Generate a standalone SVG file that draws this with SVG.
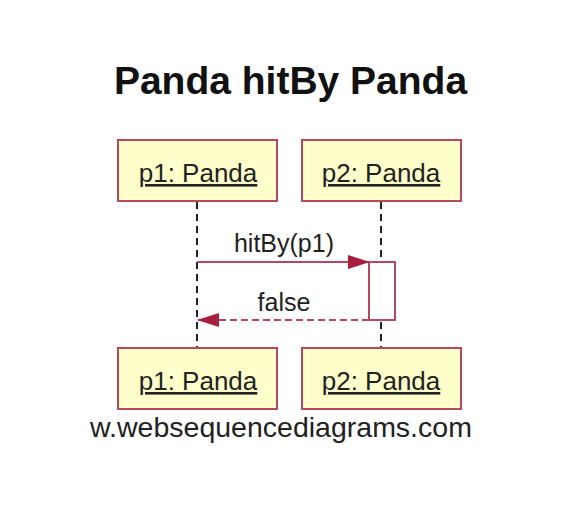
<svg xmlns="http://www.w3.org/2000/svg" width="572" height="520" viewBox="0 0 572 520">
<style>
.box{fill:#ffffcc;stroke:#b5475e;stroke-width:2}
.lbl{font-family:"Liberation Sans",Arial,sans-serif;font-size:26px;fill:#222;text-anchor:middle;text-decoration:underline}
.life{stroke:#222;stroke-width:2;stroke-dasharray:7,5;fill:none}
.msg{font-family:"Liberation Sans",Arial,sans-serif;font-size:25px;fill:#222;text-anchor:middle}
</style>
<defs>
<marker id="ah" markerWidth="22" markerHeight="14" refX="21" refY="7" orient="auto" markerUnits="userSpaceOnUse">
<path d="M0,0 L22,7 L0,14 Z" fill="#a8203f"/>
</marker>
</defs>
<rect width="572" height="520" fill="#fff"/>
<text x="290.5" y="94" font-family="Liberation Sans,Arial,sans-serif" font-size="39" font-weight="bold" text-anchor="middle" fill="#111">Panda hitBy Panda</text>
<g id="lifelines">
<line class="life" x1="197" y1="202" x2="197" y2="347"/>
<line class="life" x1="381" y1="202" x2="381" y2="347"/>
</g>
<g id="p1">
<rect class="box" x="118" y="140" width="159" height="61"/>
<text class="lbl" x="198" y="182">p1: Panda</text>
</g>
<g id="p2">
<rect class="box" x="302" y="140" width="159" height="61"/>
<text class="lbl" x="381" y="182">p2: Panda</text>
</g>
<g id="p1-bottom">
<rect class="box" x="118" y="348" width="159" height="61"/>
<text class="lbl" x="198" y="390">p1: Panda</text>
</g>
<g id="p2-bottom">
<rect class="box" x="302" y="348" width="159" height="61"/>
<text class="lbl" x="381" y="390">p2: Panda</text>
</g>
<g id="activation">
<rect x="369" y="262" width="26" height="58" fill="#fff" stroke="#b5475e" stroke-width="2"/>
</g>
<g id="connectors">
<line x1="197" y1="262" x2="369" y2="262" stroke="#b5475e" stroke-width="2" marker-end="url(#ah)"/>
<text class="msg" x="284" y="252">hitBy(p1)</text>
<line x1="369" y1="320" x2="198" y2="320" stroke="#b5475e" stroke-width="2" stroke-dasharray="7,4" marker-end="url(#ah)"/>
<text class="msg" x="284" y="311">false</text>
</g>
<text x="281" y="437" font-family="Liberation Sans,Arial,sans-serif" font-size="28.5" text-anchor="middle" fill="#222">w.websequencediagrams.com</text>
</svg>
